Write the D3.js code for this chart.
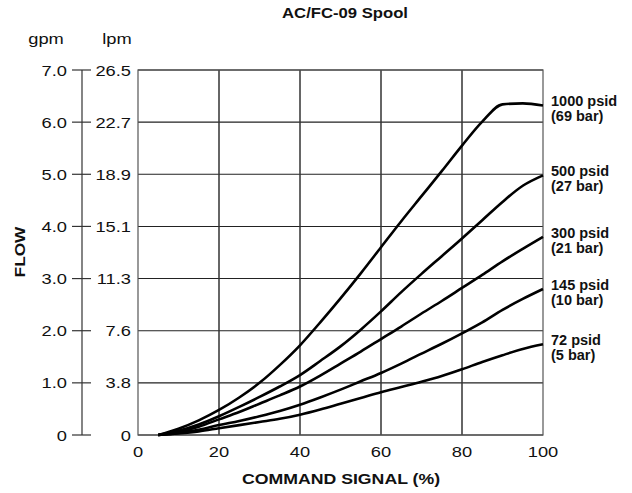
<html>
<head>
<script src="https://d3js.org/d3.v7.min.js"></script>
<style>
  body { margin: 0; background: #fff; }
  text { font-family: "Liberation Sans", Arial, Helvetica, sans-serif; fill: #111; }
</style>
</head>
<body>
<svg id="chart"></svg>
<script>
const width = 632;
const height = 493;

// command signal (%)
const signal = [5, 10, 15, 20, 25, 30, 35, 40, 45, 50, 55, 60, 65, 70, 75, 80, 85, 90, 95, 100];
// flow in gpm per pressure drop
const flow1000 = [0, 0.12, 0.28, 0.48, 0.72, 1.0, 1.34, 1.72, 2.16, 2.62, 3.1, 3.6, 4.1, 4.58, 5.06, 5.55, 6.01, 6.34, 6.36, 6.32];
const flow500  = [0, 0.08, 0.2, 0.36, 0.54, 0.73, 0.93, 1.15, 1.42, 1.7, 2.02, 2.37, 2.74, 3.09, 3.43, 3.77, 4.12, 4.47, 4.78, 4.98];
const flow300  = [0, 0.06, 0.16, 0.3, 0.44, 0.6, 0.76, 0.93, 1.14, 1.37, 1.6, 1.84, 2.08, 2.33, 2.57, 2.82, 3.07, 3.33, 3.57, 3.8];
const flow145  = [0, 0.04, 0.1, 0.19, 0.27, 0.36, 0.46, 0.58, 0.72, 0.87, 1.03, 1.19, 1.37, 1.56, 1.75, 1.95, 2.16, 2.4, 2.61, 2.8];
const flow72   = [0, 0.03, 0.07, 0.13, 0.19, 0.25, 0.31, 0.39, 0.49, 0.6, 0.71, 0.82, 0.92, 1.02, 1.13, 1.26, 1.4, 1.53, 1.65, 1.74];

const seriesNames = ["1000 psid", "500 psid", "300 psid", "145 psid", "72 psid"];
const barNames = ["(69 bar)", "(27 bar)", "(21 bar)", "(10 bar)", "(5 bar)"];
const seriesValues = [flow1000, flow500, flow300, flow145, flow72];

const gpmTicks = [0, 1, 2, 3, 4, 5, 6, 7];
const gpmLabels = ["0", "1.0", "2.0", "3.0", "4.0", "5.0", "6.0", "7.0"];
const lpmLabels = ["0", "3.8", "7.6", "11.3", "15.1", "18.9", "22.7", "26.5"];
const xTicks = [0, 20, 40, 60, 80, 100];

const svg = d3.select('#chart').attr('width', width).attr('height', height);

const x = d3.scaleLinear().domain([0, 100]).range([138, 543]);
const y = d3.scaleLinear().domain([0, 7]).range([435, 70]);

// the reference lettering is a bit wider than Arial
const sx = 1.18;
const at = (px, py) => `translate(${px},${py}) scale(${sx},1)`;

// grid
svg.selectAll('.hgrid').data(gpmTicks).enter().append('line')
    .attr('x1', x(0)).attr('x2', x(100))
    .attr('y1', d => y(d)).attr('y2', d => y(d))
    .style('stroke', '#222').style('stroke-width', 1.1);

svg.selectAll('.vgrid').data(xTicks.slice(1, -1)).enter().append('line')
    .attr('x1', d => x(d)).attr('x2', d => x(d))
    .attr('y1', y(0)).attr('y2', y(7))
    .style('stroke', '#333').style('stroke-width', 1.5);

svg.append('rect')
    .attr('x', x(0)).attr('y', y(7))
    .attr('width', x(100) - x(0)).attr('height', y(0) - y(7))
    .style('fill', 'none').style('stroke', '#555').style('stroke-width', 1.2);

// gpm axis
const axX = 82;
svg.append('line')
    .attr('x1', axX).attr('x2', axX).attr('y1', y(0)).attr('y2', y(7))
    .style('stroke', '#333').style('stroke-width', 1.2);
svg.selectAll('.gtick').data(gpmTicks).enter().append('line')
    .attr('x1', axX - 10).attr('x2', axX + 9)
    .attr('y1', d => y(d)).attr('y2', d => y(d))
    .style('stroke', '#333').style('stroke-width', 1.2);

svg.selectAll('.glab').data(gpmTicks).enter().append('text')
    .attr('transform', d => at(67, y(d))).attr('dy', '0.36em')
    .attr('text-anchor', 'end').style('font-size', '15.5px')
    .text((d, i) => gpmLabels[i]);

svg.selectAll('.llab').data(gpmTicks).enter().append('text')
    .attr('transform', d => at(131, y(d))).attr('dy', '0.36em')
    .attr('text-anchor', 'end').style('font-size', '15.5px')
    .text((d, i) => lpmLabels[i]);

svg.append('text').attr('transform', at(46, 44)).attr('text-anchor', 'middle')
    .style('font-size', '15.5px').text('gpm');
svg.append('text').attr('transform', at(117, 44)).attr('text-anchor', 'middle')
    .style('font-size', '15.5px').text('lpm');

// x axis labels
svg.selectAll('.xlab').data(xTicks).enter().append('text')
    .attr('transform', d => at(x(d), 457))
    .attr('text-anchor', 'middle').style('font-size', '15.5px')
    .text(d => d);

svg.append('text').attr('transform', at(341, 484)).attr('text-anchor', 'middle')
    .style('font-size', '15px').style('font-weight', 'bold').text('COMMAND SIGNAL (%)');

svg.append('text').attr('transform', 'translate(25,252) rotate(-90) scale(1.15,1)').attr('text-anchor', 'middle')
    .style('font-size', '15px').style('font-weight', 'bold').text('FLOW');

svg.append('text').attr('transform', `translate(345,18) scale(1.15,1)`).attr('text-anchor', 'middle')
    .style('font-size', '14.5px').style('font-weight', 'bold').text('AC/FC-09 Spool');

// curves
const line = d3.line()
    .x((d, i) => x(signal[i]))
    .y(d => y(d))
    .curve(d3.curveMonotoneX);

svg.selectAll('.curve').data(seriesValues).enter().append('path')
    .attr('d', line)
    .style('fill', 'none').style('stroke', '#000')
    .style('stroke-width', 2.6).style('stroke-linejoin', 'round');

// right labels
const lab = svg.selectAll('.slab').data(seriesValues).enter().append('text')
    .attr('x', 551).attr('y', d => y(d[d.length - 1]) + 1)
    .style('font-size', '14.5px').style('font-weight', 'bold');
lab.append('tspan').text((d, i) => seriesNames[i]);
lab.append('tspan').attr('x', 551).attr('dy', 15).text((d, i) => barNames[i]);
</script>
</body>
</html>
